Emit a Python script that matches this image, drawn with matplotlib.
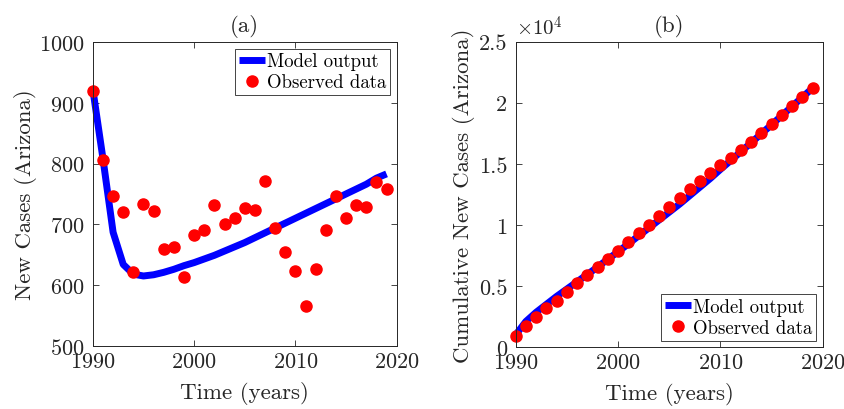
import matplotlib
matplotlib.use("Agg")
import matplotlib.pyplot as plt
import numpy as np

plt.rcParams['font.family'] = 'serif'
plt.rcParams['font.serif'] = ['cmr10']
plt.rcParams['mathtext.fontset'] = 'cm'
plt.rcParams['axes.formatter.use_mathtext'] = True

years = list(range(1990, 2020))
observed = [919, 806, 746, 720, 621, 734, 722, 660, 662, 614,
            682, 691, 731, 700, 710, 727, 723, 772, 694, 655,
            624, 565, 627, 691, 746, 710, 732, 728, 769, 758]
model = [922, 808, 687, 634, 618, 615, 617, 621, 626, 632,
         637, 643, 649, 656, 663, 670, 678, 686, 694, 702,
         710, 718, 726, 734, 742, 750, 758, 766, 776, 783]
observed_cum = [919, 1725, 2471, 3191, 3812, 4546, 5268, 5928, 6590, 7204,
                7886, 8577, 9308, 10008, 10718, 11445, 12168, 12940, 13634, 14289,
                14913, 15478, 16105, 16796, 17542, 18252, 18984, 19712, 20481, 21239]
model_cum = [1000, 2100, 2850, 3500, 4150, 4750, 5350, 5950, 6550, 7200,
             7800, 8450, 9100, 9750, 10400, 11050, 11700, 12400, 13100, 13800,
             14550, 15270, 16000, 16730, 17470, 18210, 18960, 19710, 20460, 21200]

xticks = [1990, 2000, 2010, 2020]
yticks_a = [500, 600, 700, 800, 900, 1000]
yticks_b = [0, 5000, 10000, 15000, 20000, 25000]
yticklabels_b = ['0', '0.5', '1', '1.5', '2', '2.5']

blue = '#0000ff'
red = '#ff0000'
axc = '#262626'

TICK = 16
LAB = 16.5
LEG = 13.5

fig = plt.figure(figsize=(8.44, 4.10), dpi=100)
ax1 = fig.add_axes([0.110, 0.154, 0.360, 0.741])
ax2 = fig.add_axes([0.611, 0.151, 0.364, 0.745])

def style(ax):
    ax.tick_params(direction='in', top=True, right=True, labelsize=TICK,
                   colors=axc, length=4, width=0.6)
    ax.tick_params(axis='x', pad=4)
    ax.tick_params(axis='y', pad=6)
    for s in ax.spines.values():
        s.set_color(axc)
        s.set_linewidth(0.7)

def legend(ax, loc):
    leg = ax.legend(loc=loc, fontsize=LEG, handlelength=1.4, handletextpad=0.1,
                    borderpad=0.2, labelspacing=0.15, fancybox=False, framealpha=1,
                    edgecolor=axc, borderaxespad=0.35)
    leg.get_frame().set_linewidth(0.6)
    return leg

ax1.plot(years, model, color=blue, lw=5, label='Model output', solid_capstyle='butt')
ax1.plot(years, observed, 'o', color=red, ms=8, label='Observed data')
ax1.set_xlim(1990, 2020)
ax1.set_ylim(500, 1000)
ax1.set_xticks(xticks)
ax1.set_yticks(yticks_a)
ax1.set_xlabel('Time (years)', fontsize=LAB, color=axc)
ax1.set_ylabel('New Cases (Arizona)', fontsize=LAB, color=axc)
ax1.xaxis.set_label_coords(0.5, -0.115)
ax1.yaxis.set_label_coords(-0.183, 0.5)
ax1.set_title('(a)', fontsize=LAB, color=axc, pad=8)
style(ax1)
legend(ax1, 'upper right')

ax2.plot(years, model_cum, color=blue, lw=5, label='Model output', solid_capstyle='butt')
ax2.plot(years, observed_cum, 'o', color=red, ms=8, label='Observed data')
ax2.set_xlim(1990, 2020)
ax2.set_ylim(0, 25000)
ax2.set_xticks(xticks)
ax2.set_yticks(yticks_b)
ax2.set_yticklabels(yticklabels_b)
ax2.set_xlabel('Time (years)', fontsize=LAB, color=axc)
ax2.set_ylabel('Cumulative New Cases (Arizona)', fontsize=LAB, color=axc)
ax2.xaxis.set_label_coords(0.5, -0.115)
ax2.yaxis.set_label_coords(-0.134, 0.5)
ax2.set_title('(b)', fontsize=LAB, color=axc, pad=8)
ax2.text(0.0, 1.01, r'$\times10^4$', transform=ax2.transAxes, fontsize=15,
         color=axc, ha='left', va='bottom')
style(ax2)
legend(ax2, 'lower right')

for line in ax1.lines + ax2.lines:
    line.set_clip_on(False)

fig.savefig('out.png', dpi=100)
